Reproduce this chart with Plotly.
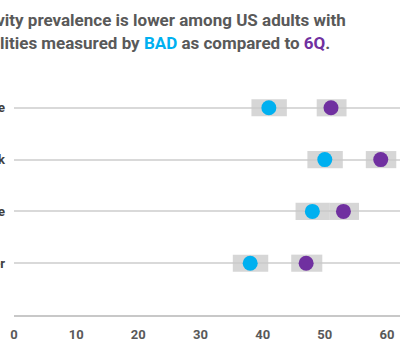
import plotly.graph_objects as go

categories = ["White", "Black", "Native", "Other"]
bad_values = [41, 50, 48, 38]
bad_low = [38.2, 47.2, 45.3, 35.2]
bad_high = [43.9, 52.9, 50.8, 40.9]
q6_values = [51, 59, 53, 47]
q6_low = [48.7, 56.6, 50.8, 44.6]
q6_high = [53.5, 61.5, 55.5, 49.6]
x_ticks = [0, 10, 20, 30, 40, 50, 60]

BLUE = "#00B0F0"
PURPLE = "#7030A0"
FONT = "Liberation Sans Narrow, Roboto, sans-serif"

ypos = [4, 3, 2, 1]

fig = go.Figure()
for lo, hi in [(bad_low, bad_high), (q6_low, q6_high)]:
    fig.add_trace(go.Bar(
        y=ypos, x=[h - l for l, h in zip(lo, hi)], base=lo,
        orientation="h", width=0.33,
        marker=dict(color="rgba(200,200,200,0.75)", line=dict(width=0)),
        showlegend=False, hoverinfo="skip",
    ))
fig.add_trace(go.Scatter(
    y=ypos, x=bad_values, mode="markers",
    marker=dict(color=BLUE, size=15, line=dict(width=0)), showlegend=False))
fig.add_trace(go.Scatter(
    y=ypos, x=q6_values, mode="markers",
    marker=dict(color=PURPLE, size=15, line=dict(width=0)), showlegend=False))

fig.update_layout(
    width=400, height=350,
    margin=dict(l=14, r=0, t=56, b=35),
    paper_bgcolor="white", plot_bgcolor="white",
    barmode="overlay",
    font=dict(family=FONT, color="#595959"),
    xaxis=dict(range=[0, 62.1], tickvals=x_ticks, showgrid=False, zeroline=False,
               showline=True, linecolor="#c8c8c8", linewidth=2,
               tickfont=dict(size=13, color="#595959", family=FONT, weight="bold"),
               ticklabelstandoff=6, automargin=False, fixedrange=True),
    yaxis=dict(range=[0, 5], tickvals=ypos, ticktext=categories,
               showgrid=True, gridcolor="#d9d9d9", gridwidth=2,
               zeroline=False, showline=False,
               tickfont=dict(size=13, color="#404040", family=FONT, weight="bold"),
               ticklabelstandoff=8, automargin=False, fixedrange=True),
    annotations=[
        dict(text="<b>Physical inactivity prevalence is lower among US adults with</b>",
             xref="paper", yref="paper", x=(348 - 14) / 386, y=(315 - 20) / 259,
             xanchor="right", yanchor="middle", showarrow=False,
             font=dict(size=17, color="#595959", family=FONT)),
        dict(text="<b>disabilities measured by <span style='color:" + BLUE + "'>BAD</span> as compared to <span style='color:" + PURPLE + "'>6Q</span>.</b>",
             xref="paper", yref="paper", x=(332 - 14) / 386, y=(315 - 43) / 259,
             xanchor="right", yanchor="middle", showarrow=False,
             font=dict(size=17, color="#595959", family=FONT)),
    ],
)

fig.write_html("out.html")
